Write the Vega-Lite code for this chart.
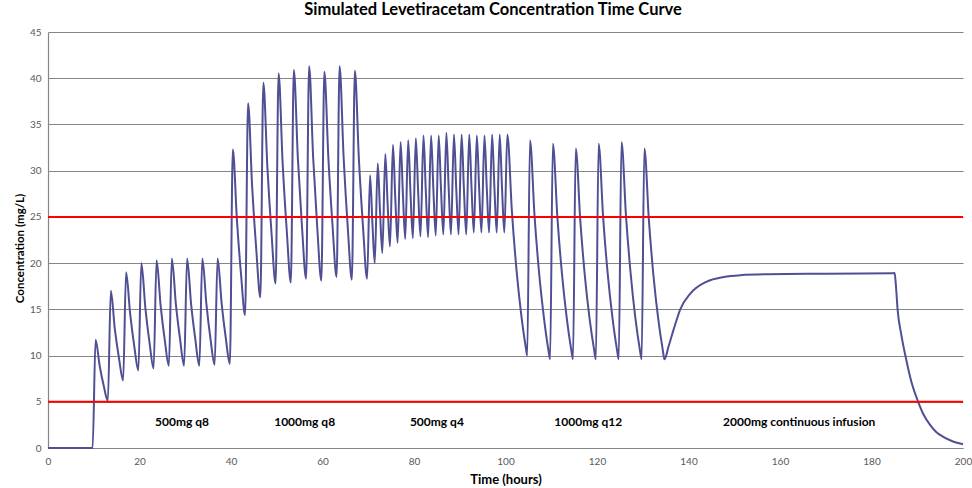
{
  "$schema": "https://vega.github.io/schema/vega-lite/v6.json",
  "width": 915,
  "height": 416,
  "autosize": {"type": "none"},
  "padding": {"left": 48, "top": 32, "right": 9, "bottom": 40},
  "background": "#ffffff",
  "title": {"text": "Simulated Levetiracetam Concentration Time Curve", "fontSize": 16.5, "fontWeight": "bold", "font": "Lato", "color": "#000000", "offset": 9, "anchor": "middle", "frame": "bounds"},
  "config": {"view": {"stroke": null}, "font": "Lato"},
  "datasets": {
    "curve": [
      {"t":0,"c":0},{"t":9.75,"c":0},
      {"t":10.40,"c":11.7},{"t":11.29,"c":8.9},{"t":12.19,"c":6.7},{"t":13.08,"c":5.1},
      {"t":13.73,"c":17.0},{"t":14.62,"c":12.8},{"t":15.52,"c":9.7},{"t":16.42,"c":7.3},
      {"t":17.07,"c":19.0},{"t":17.96,"c":14.5},{"t":18.86,"c":11.0},{"t":19.75,"c":8.4},
      {"t":20.40,"c":20.0},{"t":21.29,"c":15.1},{"t":22.19,"c":11.4},{"t":23.08,"c":8.6},
      {"t":23.73,"c":20.3},{"t":24.62,"c":15.4},{"t":25.52,"c":11.7},{"t":26.42,"c":8.9},
      {"t":27.07,"c":20.5},{"t":27.96,"c":15.5},{"t":28.86,"c":11.8},{"t":29.75,"c":8.9},
      {"t":30.40,"c":20.5},{"t":31.29,"c":15.5},{"t":32.19,"c":11.8},{"t":33.08,"c":8.9},
      {"t":33.73,"c":20.5},{"t":34.62,"c":15.6},{"t":35.52,"c":11.8},{"t":36.42,"c":9.0},
      {"t":37.07,"c":20.5},{"t":37.96,"c":15.6},{"t":38.86,"c":11.9},{"t":39.75,"c":9.1},
      {"t":40.40,"c":32.3},{"t":41.29,"c":24.7},{"t":42.19,"c":18.8},{"t":43.08,"c":14.4},
      {"t":43.73,"c":37.3},{"t":44.62,"c":28.3},{"t":45.52,"c":21.5},{"t":46.42,"c":16.3},
      {"t":47.07,"c":39.5},{"t":47.96,"c":30.3},{"t":48.86,"c":23.2},{"t":49.75,"c":17.8},
      {"t":50.40,"c":40.5},{"t":51.29,"c":30.8},{"t":52.19,"c":23.5},{"t":53.08,"c":17.9},
      {"t":53.73,"c":40.9},{"t":54.62,"c":31.3},{"t":55.52,"c":23.9},{"t":56.42,"c":18.3},
      {"t":57.07,"c":41.3},{"t":57.96,"c":31.4},{"t":58.86,"c":23.8},{"t":59.75,"c":18.1},
      {"t":60.40,"c":40.7},{"t":61.29,"c":31.3},{"t":62.19,"c":24.1},{"t":63.08,"c":18.5},
      {"t":63.73,"c":41.3},{"t":64.62,"c":31.4},{"t":65.52,"c":23.9},{"t":66.42,"c":18.2},
      {"t":67.07,"c":40.8},{"t":67.96,"c":31.2},{"t":68.86,"c":23.9},{"t":69.75,"c":18.3},
      {"t":70.40,"c":29.5},{"t":70.91,"c":24.3},{"t":71.42,"c":20.0},
      {"t":72.07,"c":30.8},{"t":72.58,"c":25.5},{"t":73.08,"c":21.1},
      {"t":73.73,"c":31.8},{"t":74.24,"c":26.3},{"t":74.75,"c":21.8},
      {"t":75.40,"c":32.8},{"t":75.91,"c":27.0},{"t":76.42,"c":22.2},
      {"t":77.07,"c":33.1},{"t":77.58,"c":27.4},{"t":78.08,"c":22.6},
      {"t":78.73,"c":33.3},{"t":79.24,"c":27.5},{"t":79.75,"c":22.7},
      {"t":80.40,"c":33.5},{"t":80.91,"c":27.7},{"t":81.42,"c":22.9},
      {"t":82.07,"c":33.8},{"t":82.58,"c":27.8},{"t":83.08,"c":22.8},
      {"t":83.73,"c":33.8},{"t":84.24,"c":27.9},{"t":84.75,"c":23.0},
      {"t":85.40,"c":33.8},{"t":85.91,"c":27.9},{"t":86.42,"c":23.1},
      {"t":87.07,"c":34.1},{"t":87.58,"c":28.1},{"t":88.08,"c":23.1},
      {"t":88.73,"c":33.9},{"t":89.24,"c":28.0},{"t":89.75,"c":23.1},
      {"t":90.40,"c":33.9},{"t":90.91,"c":28.0},{"t":91.42,"c":23.1},
      {"t":92.07,"c":33.9},{"t":92.58,"c":28.1},{"t":93.08,"c":23.3},
      {"t":93.73,"c":33.8},{"t":94.24,"c":28.1},{"t":94.75,"c":23.3},
      {"t":95.40,"c":33.8},{"t":95.91,"c":28.1},{"t":96.42,"c":23.3},
      {"t":97.07,"c":33.9},{"t":97.58,"c":28.1},{"t":98.08,"c":23.3},
      {"t":98.73,"c":33.9},{"t":99.24,"c":28.1},{"t":99.75,"c":23.3},
      {"t":100.40,"c":33.9},{"t":101.40,"c":25.6},{"t":102.40,"c":19.3},{"t":103.40,"c":14.6},{"t":104.40,"c":11.0},{"t":104.75,"c":10.0},
      {"t":105.35,"c":33.3},{"t":106.35,"c":25.1},{"t":107.35,"c":18.9},{"t":108.35,"c":14.3},{"t":109.35,"c":10.7},{"t":109.75,"c":9.6},
      {"t":110.35,"c":32.9},{"t":111.35,"c":24.9},{"t":112.35,"c":18.8},{"t":113.35,"c":14.2},{"t":114.35,"c":10.7},{"t":114.75,"c":9.6},
      {"t":115.35,"c":32.4},{"t":116.35,"c":24.6},{"t":117.35,"c":18.6},{"t":118.35,"c":14.1},{"t":119.35,"c":10.7},{"t":119.75,"c":9.6},
      {"t":120.35,"c":32.9},{"t":121.35,"c":24.9},{"t":122.35,"c":18.8},{"t":123.35,"c":14.2},{"t":124.35,"c":10.7},{"t":124.75,"c":9.6},
      {"t":125.35,"c":33.1},{"t":126.35,"c":25.0},{"t":127.35,"c":18.9},{"t":128.35,"c":14.2},{"t":129.35,"c":10.7},{"t":129.75,"c":9.6},
      {"t":130.35,"c":32.4},{"t":131.35,"c":24.6},{"t":132.35,"c":18.6},{"t":133.35,"c":14.1},{"t":134.35,"c":10.7},{"t":134.75,"c":9.6},
      {"t":135.65,"c":11.0},{"t":136.74,"c":12.8},{"t":138.2,"c":15.0},{"t":140.4,"c":16.7},{"t":144.0,"c":18.0},{"t":147.7,"c":18.5},{"t":151.3,"c":18.7},{"t":157.2,"c":18.8},{"t":170,"c":18.85},{"t":184.75,"c":18.9},
      {"t":185.05,"c":18.95},{"t":185.35,"c":17.5},{"t":185.7,"c":15.0},{"t":186.5,"c":12.3},{"t":187.4,"c":10.0},{"t":188.7,"c":7.2},{"t":190.2,"c":5.0},{"t":191.4,"c":3.6},{"t":192.8,"c":2.5},{"t":194.2,"c":1.7},{"t":195.7,"c":1.2},{"t":197.8,"c":0.7},{"t":200,"c":0.4}
    ],
    "targets": [{"c": 5}, {"c": 25}],
    "labels": [
      {"t": 29.3, "c": 2.8, "label": "500mg q8"},
      {"t": 56.1, "c": 2.8, "label": "1000mg q8"},
      {"t": 85.0, "c": 2.8, "label": "500mg q4"},
      {"t": 118.1, "c": 2.8, "label": "1000mg q12"},
      {"t": 164.2, "c": 2.8, "label": "2000mg continuous infusion"}
    ]
  },
  "layer": [
    {
      "data": {"name": "curve"},
      "mark": {"type": "line", "color": "#4F4F94", "strokeWidth": 2, "interpolate": "monotone"},
      "encoding": {
        "x": {"field": "t", "type": "quantitative", "scale": {"domain": [0, 200], "nice": false},
          "axis": {"title": "Time (hours)", "values": [0,20,40,60,80,100,120,140,160,180,200], "grid": false, "ticks": false, "labelPadding": 8, "labelFontSize": 10, "labelColor": "#595959", "domainColor": "#868686", "domainWidth": 1, "titleFontSize": 13, "titleFontWeight": "bold", "titleColor": "#000000", "titlePadding": 7, "labelFlush": false}},
        "y": {"field": "c", "type": "quantitative", "scale": {"domain": [0, 45], "nice": false},
          "axis": {"title": "Concentration (mg/L)", "values": [0,5,10,15,20,25,30,35,40,45], "grid": true, "gridColor": "#868686", "gridWidth": 1.2, "ticks": false, "labelPadding": 7, "labelFontSize": 10, "labelColor": "#595959", "domainColor": "#868686", "domainWidth": 1.2, "titleFontSize": 11.5, "titleFontWeight": "bold", "titleColor": "#000000", "titlePadding": 4, "titleY": 216}}
      }
    },
    {
      "data": {"name": "targets"},
      "mark": {"type": "rule", "color": "#FF0000", "strokeWidth": 2},
      "encoding": {"y": {"field": "c", "type": "quantitative"}}
    },
    {
      "data": {"name": "labels"},
      "mark": {"type": "text", "fontWeight": "bold", "fontSize": 12, "color": "#000000", "font": "Lato"},
      "encoding": {
        "x": {"field": "t", "type": "quantitative"},
        "y": {"field": "c", "type": "quantitative"},
        "text": {"field": "label"}
      }
    }
  ]
}
